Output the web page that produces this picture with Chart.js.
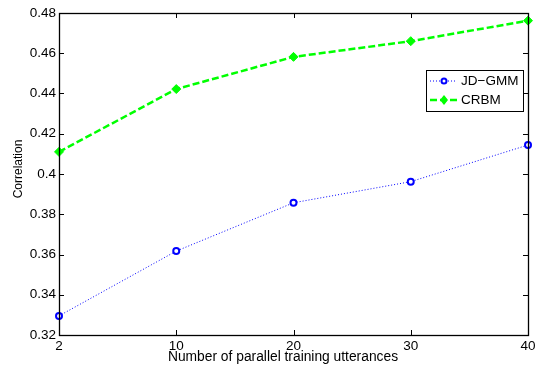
<!DOCTYPE html>
<html>
<head>
<meta charset="utf-8">
<script src="https://cdn.jsdelivr.net/npm/chart.js@4"></script>
<style>
  body { margin: 0; background: #fff; }
  #wrap { width: 549px; height: 369px; }
</style>
</head>
<body>
<div id="wrap"><canvas id="chart" width="549" height="369"></canvas></div>
<script>
// data
const utterances = ['2', '10', '20', '30', '40'];
const jdGmm = [0.3295, 0.3617, 0.3857, 0.3962, 0.4144];
const crbm = [0.4110, 0.4422, 0.4582, 0.4660, 0.4762];
const yTicks = [0.32, 0.34, 0.36, 0.38, 0.40, 0.42, 0.44, 0.46, 0.48];

const FONT = 'Liberation Sans, Arial, Helvetica, sans-serif';

// box, inward ticks on all four sides, axis titles and legend
const matlabFrame = {
    id: 'matlabFrame',
    afterDraw(chart) {
        const ctx = chart.ctx;
        const a = chart.chartArea;
        const xs = chart.scales.x;
        const ys = chart.scales.y;
        const tl = 5;
        ctx.save();
        ctx.strokeStyle = '#000';
        ctx.lineWidth = 1.3;
        ctx.strokeRect(a.left + 0.5, a.top + 0.5, a.right - a.left, a.bottom - a.top);
        ctx.lineWidth = 1;
        ctx.beginPath();
        utterances.forEach((u, i) => {
            const x = Math.round(xs.getPixelForValue(i)) + 0.5;
            ctx.moveTo(x, a.bottom); ctx.lineTo(x, a.bottom - tl);
            ctx.moveTo(x, a.top); ctx.lineTo(x, a.top + tl);
        });
        yTicks.forEach(v => {
            const y = Math.round(ys.getPixelForValue(v)) + 0.5;
            ctx.moveTo(a.left, y); ctx.lineTo(a.left + tl, y);
            ctx.moveTo(a.right, y); ctx.lineTo(a.right - tl, y);
        });
        ctx.stroke();

        // axis titles
        ctx.fillStyle = '#000';
        ctx.font = '13.8px ' + FONT;
        ctx.textAlign = 'center';
        ctx.textBaseline = 'middle';
        ctx.fillText('Number of parallel training utterances', 283, 357);
        ctx.save();
        ctx.beginPath();
        ctx.rect(12, 0, 40, 369);
        ctx.clip();
        ctx.font = '12px ' + FONT;
        ctx.translate(18.5, 169);
        ctx.rotate(-Math.PI / 2);
        ctx.fillText('Correlation', 0, 0);
        ctx.restore();

        // legend box
        const lx = 426, ly = 70, lw = 97, lh = 41;
        ctx.fillStyle = '#fff';
        ctx.fillRect(lx, ly, lw, lh);
        ctx.lineWidth = 1;
        ctx.strokeRect(lx + 0.5, ly + 0.5, lw, lh);

        const row1 = ly + 11, row2 = ly + 30;
        // JD-GMM sample
        ctx.strokeStyle = 'blue';
        ctx.lineWidth = 1;
        ctx.setLineDash([1, 2]);
        ctx.beginPath();
        ctx.moveTo(lx + 4, row1); ctx.lineTo(lx + 31, row1);
        ctx.stroke();
        ctx.setLineDash([]);
        ctx.lineWidth = 2;
        ctx.fillStyle = '#fff';
        ctx.beginPath();
        ctx.arc(lx + 18, row1, 2.5, 0, Math.PI * 2);
        ctx.fill(); ctx.stroke();
        // CRBM sample
        ctx.strokeStyle = '#00ff00';
        ctx.lineWidth = 2.5;
        ctx.setLineDash([7, 3]);
        ctx.beginPath();
        ctx.moveTo(lx + 4, row2); ctx.lineTo(lx + 31, row2);
        ctx.stroke();
        ctx.setLineDash([]);
        ctx.fillStyle = '#00ff00';
        ctx.beginPath();
        ctx.moveTo(lx + 18, row2 - 5); ctx.lineTo(lx + 22, row2);
        ctx.lineTo(lx + 18, row2 + 5); ctx.lineTo(lx + 14, row2);
        ctx.closePath();
        ctx.fill();

        ctx.fillStyle = '#000';
        ctx.font = '13.5px ' + FONT;
        ctx.textAlign = 'left';
        ctx.fillText('JD\u2212GMM', lx + 35, row1);
        ctx.fillText('CRBM', lx + 35, row2);
        ctx.restore();
    }
};

new Chart(document.getElementById('chart'), {
    type: 'line',
    data: {
        labels: utterances,
        datasets: [
            {
                label: 'JD\u2212GMM',
                data: jdGmm,
                borderColor: 'blue',
                borderWidth: 1,
                borderDash: [1, 2],
                pointStyle: 'circle',
                pointRadius: 3,
                pointBorderWidth: 2,
                pointBorderColor: 'blue',
                pointBackgroundColor: '#fff',
                tension: 0
            },
            {
                label: 'CRBM',
                data: crbm,
                borderColor: '#00ff00',
                borderWidth: 2.5,
                borderDash: [7, 3],
                pointStyle: 'rectRot',
                pointRadius: 4.5,
                pointBorderWidth: 1,
                pointBorderColor: '#00ff00',
                pointBackgroundColor: '#00ff00',
                tension: 0
            }
        ]
    },
    options: {
        responsive: false,
        animation: false,
        layout: { padding: { top: 13, right: 21, left: 0, bottom: 0 } },
        plugins: {
            legend: { display: false },
            tooltip: { enabled: false }
        },
        scales: {
            x: {
                type: 'category',
                offset: false,
                grid: { display: false, drawTicks: false },
                border: { display: false },
                afterFit: s => { s.height = 34; },
                ticks: {
                    color: '#000',
                    font: { family: FONT, size: 13.5 },
                    padding: 3,
                    maxRotation: 0,
                    autoSkip: false
                }
            },
            y: {
                min: 0.32,
                max: 0.48,
                grid: { display: false, drawTicks: false },
                border: { display: false },
                afterFit: s => { s.width = 59; },
                afterBuildTicks: s => { s.ticks = yTicks.map(v => ({ value: v })); },
                ticks: {
                    color: '#000',
                    font: { family: FONT, size: 13.5 },
                    padding: 3,
                    callback: v => String(parseFloat(v.toFixed(2)))
                }
            }
        }
    },
    plugins: [matlabFrame]
});
</script>
</body>
</html>
